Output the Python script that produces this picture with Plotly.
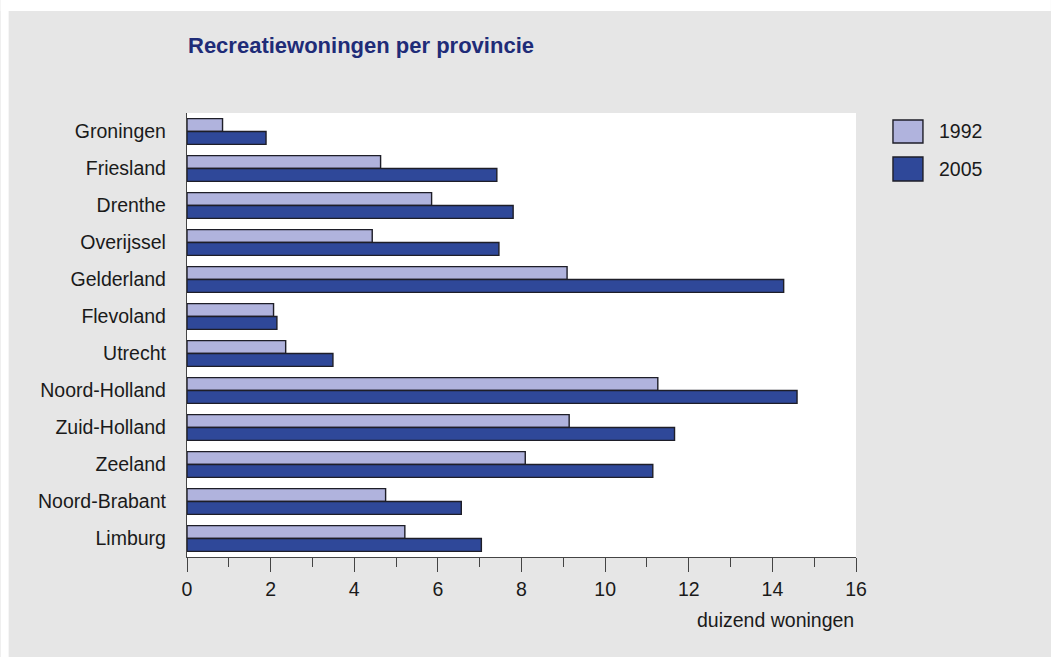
import plotly.graph_objects as go

provinces = ["Groningen", "Friesland", "Drenthe", "Overijssel", "Gelderland", "Flevoland",
             "Utrecht", "Noord-Holland", "Zuid-Holland", "Zeeland", "Noord-Brabant", "Limburg"]
v1992 = [0.85, 4.63, 5.85, 4.43, 9.09, 2.07, 2.36, 11.26, 9.14, 8.09, 4.75, 5.21]
v2005 = [1.89, 7.41, 7.80, 7.46, 14.27, 2.15, 3.49, 14.59, 11.66, 11.14, 6.56, 7.04]
series_names = ["1992", "2005"]
x_ticks = list(range(0, 17, 2))

FONT = "Liberation Sans, Arial, Helvetica, sans-serif"
FS = 19.5
C1992 = "#b0b3dd"
C2005 = "#2f4899"
EDGE = "#1e1e28"
BG = "#e6e6e6"
TXT = "#1a1a1a"

W, H = 1051, 657
L, R, T, B = 186.5, 195, 113, 100
pw, ph = W - L - R, H - T - B

def px(xp):
    return (xp - L) / pw

def py(yp):
    return 1 - (yp - T) / ph

fig = go.Figure()
for name, vals, col in [(series_names[0], v1992, C1992), (series_names[1], v2005, C2005)]:
    fig.add_trace(go.Bar(
        y=provinces, x=vals, name=name, orientation="h",
        marker=dict(color=col, line=dict(color=EDGE, width=1.4)),
        showlegend=False,
    ))

shapes = [
    # white strips outside the gray panel
    dict(type="rect", xref="paper", yref="paper", x0=px(0), x1=px(W), y0=py(0), y1=py(11),
         fillcolor="white", line=dict(width=0), layer="below"),
    dict(type="rect", xref="paper", yref="paper", x0=px(0), x1=px(8), y0=py(0), y1=py(H),
         fillcolor="white", line=dict(width=0), layer="below"),
    # custom legend swatches
    dict(type="rect", xref="paper", yref="paper", x0=px(893), x1=px(923), y0=py(120), y1=py(143),
         fillcolor=C1992, line=dict(color=EDGE, width=1.4)),
    dict(type="rect", xref="paper", yref="paper", x0=px(893), x1=px(923), y0=py(157), y1=py(181),
         fillcolor=C2005, line=dict(color=EDGE, width=1.4)),
]

annotations = [
    dict(text="<b>Recreatiewoningen per provincie</b>", xref="paper", yref="paper",
         x=px(185), y=py(46), xanchor="left", yanchor="middle", showarrow=False,
         font=dict(family=FONT, size=22, color="#1f2c78")),
    dict(text=series_names[0], xref="paper", yref="paper", x=px(937), y=py(131.5),
         xanchor="left", yanchor="middle", showarrow=False,
         font=dict(family=FONT, size=FS, color=TXT)),
    dict(text=series_names[1], xref="paper", yref="paper", x=px(937), y=py(169),
         xanchor="left", yanchor="middle", showarrow=False,
         font=dict(family=FONT, size=FS, color=TXT)),
    dict(text="duizend woningen", xref="paper", yref="paper", x=px(856), y=py(620),
         xanchor="right", yanchor="middle", showarrow=False,
         font=dict(family=FONT, size=FS, color=TXT)),
]

fig.update_layout(
    width=W, height=H,
    margin=dict(l=L, r=R, t=T, b=B, pad=0),
    paper_bgcolor=BG, plot_bgcolor="white",
    barmode="group", bargap=0.305, bargroupgap=0,
    font=dict(family=FONT, size=FS, color=TXT),
    shapes=shapes, annotations=annotations,
    xaxis=dict(range=[0, 16], tickvals=x_ticks, ticktext=[str(t) for t in x_ticks],
               ticks="outside", ticklen=14, tickwidth=1.3, tickcolor="#444",
               showline=True, linecolor="#444", linewidth=1.3,
               showgrid=False, zeroline=False, fixedrange=True,
               minor=dict(dtick=1, ticks="outside", ticklen=9, tickwidth=1.3, tickcolor="#444"),
               tickfont=dict(family=FONT, size=FS, color=TXT)),
    yaxis=dict(autorange="reversed", showline=True, linecolor="#444", linewidth=1.3,
               ticks="", showgrid=False, zeroline=False, ticklabelstandoff=16,
               fixedrange=True,
               tickfont=dict(family=FONT, size=FS, color=TXT)),
)

fig.write_html(
    "out.html",
    config={"displayModeBar": False},
    post_script=(
        "document.body.style.margin='0';"
        "document.body.style.overflow='hidden';"
        "document.documentElement.style.overflow='hidden';"
        "document.body.style.background='" + BG + "';"
    ),
)
